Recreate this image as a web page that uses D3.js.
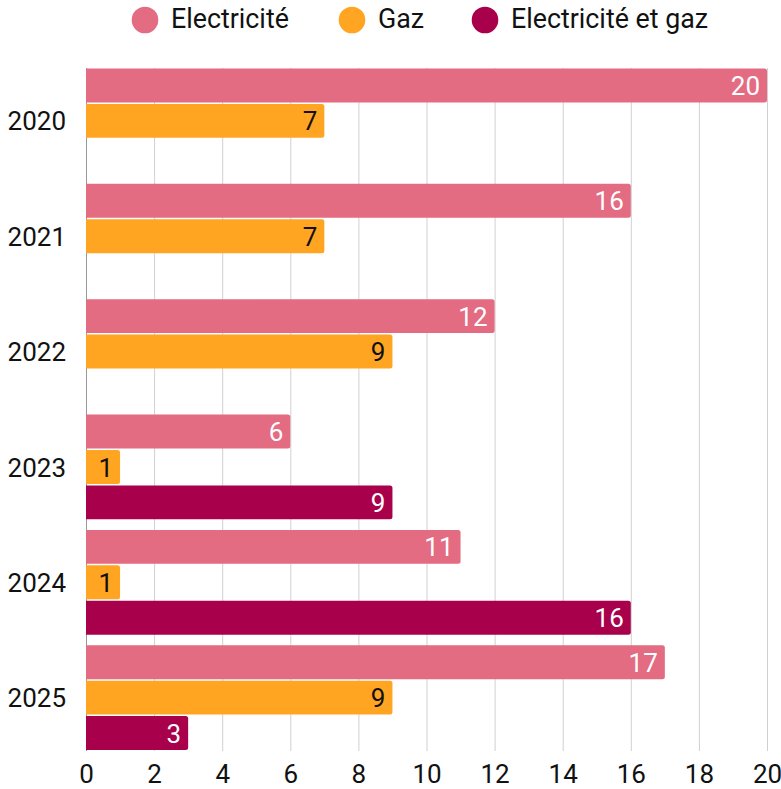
<!DOCTYPE html>
<html><head><meta charset="utf-8">
<script src="https://cdn.jsdelivr.net/npm/d3@7"></script>
<style>
html,body{margin:0;padding:0;background:#fff;}
svg text{font-family:Roboto,"Noto Sans",sans-serif;}
</style></head>
<body>
<svg id="chart" width="781" height="789"></svg>
<script>
const years = ["2020","2021","2022","2023","2024","2025"];
const seriesNames = ["Electricité","Gaz","Electricité et gaz"];
const electricite = [20,16,12,6,11,17];
const gaz = [7,7,9,1,1,9];
const electriciteEtGaz = [null,null,null,9,16,3];
const xTicks = [0,2,4,6,8,10,12,14,16,18,20];
const colors = ["#E36B82","#FFA521","#A8004A"];
const labelColors = ["#ffffff","#111111","#ffffff"];

const seriesValues = [electricite, gaz, electriciteEtGaz];
const svg = d3.select("#chart");
const mLeft = 86, mRight = 767, mTop = 68, mBottom = 751;

const x = d3.scaleLinear().domain([0,20]).range([mLeft,mRight]);
const y = d3.scaleBand().domain(years).range([mTop,mBottom]).paddingInner(0.079).paddingOuter(0);
const ys = d3.scaleBand().domain(seriesNames).range([0,y.bandwidth()]).padding(0);

// grid
svg.append("g").selectAll("line").data(xTicks).join("line")
  .attr("x1",d=>x(d)+0.5).attr("x2",d=>x(d)+0.5)
  .attr("y1",mTop).attr("y2",mBottom)
  .attr("stroke",d=>d===0?"#999":"#d0d0d0").attr("stroke-width",1);

// bars
const data = [];
years.forEach((yr,i)=>seriesNames.forEach((s,j)=>{
  const v = seriesValues[j][i];
  if(v!=null) data.push({yr,s,j,v});
}));
const g = svg.append("g");
g.selectAll("path").data(data).join("path")
  .attr("d",d=>{
    const x0 = x(0), x1 = x(d.v), y0 = y(d.yr)+ys(d.s)+0.5, h = ys.bandwidth()-1.5, r=2.5;
    return `M${x0},${y0}H${x1-r}Q${x1},${y0} ${x1},${y0+r}V${y0+h-r}Q${x1},${y0+h} ${x1-r},${y0+h}H${x0}Z`;
  })
  .attr("fill",d=>colors[d.j]);
g.selectAll("text").data(data).join("text")
  .attr("x",d=>x(d.v)-7)
  .attr("y",d=>y(d.yr)+ys(d.s)+ys.bandwidth()/2)
  .attr("dy","0.36em")
  .attr("text-anchor","end")
  .attr("font-size",26)
  .attr("fill",d=>labelColors[d.j])
  .text(d=>d.v);

// y axis labels
svg.append("g").selectAll("text").data(years).join("text")
  .attr("x",66).attr("y",d=>y(d)+y.bandwidth()/2)
  .attr("dy","0.36em").attr("text-anchor","end")
  .attr("font-size",26).attr("fill","#111")
  .text(d=>d);

// x axis
const xAxis = svg.append("g").attr("transform",`translate(0,${mBottom})`)
  .call(d3.axisBottom(x).tickValues(xTicks).tickSize(0).tickPadding(14));
xAxis.select(".domain").remove();
xAxis.selectAll("text").attr("font-size",26).attr("fill","#111").attr("font-family","Roboto");

// legend
const legX = [145,352,485];
const leg = svg.append("g");
seriesNames.forEach((s,i)=>{
  leg.append("circle").attr("cx",legX[i]).attr("cy",20).attr("r",13.3).attr("fill",colors[i]);
  leg.append("text").attr("x",legX[i]+26).attr("y",27.7)
    .attr("font-size",26.8).attr("fill","#111").text(s);
});
</script>
</body></html>
